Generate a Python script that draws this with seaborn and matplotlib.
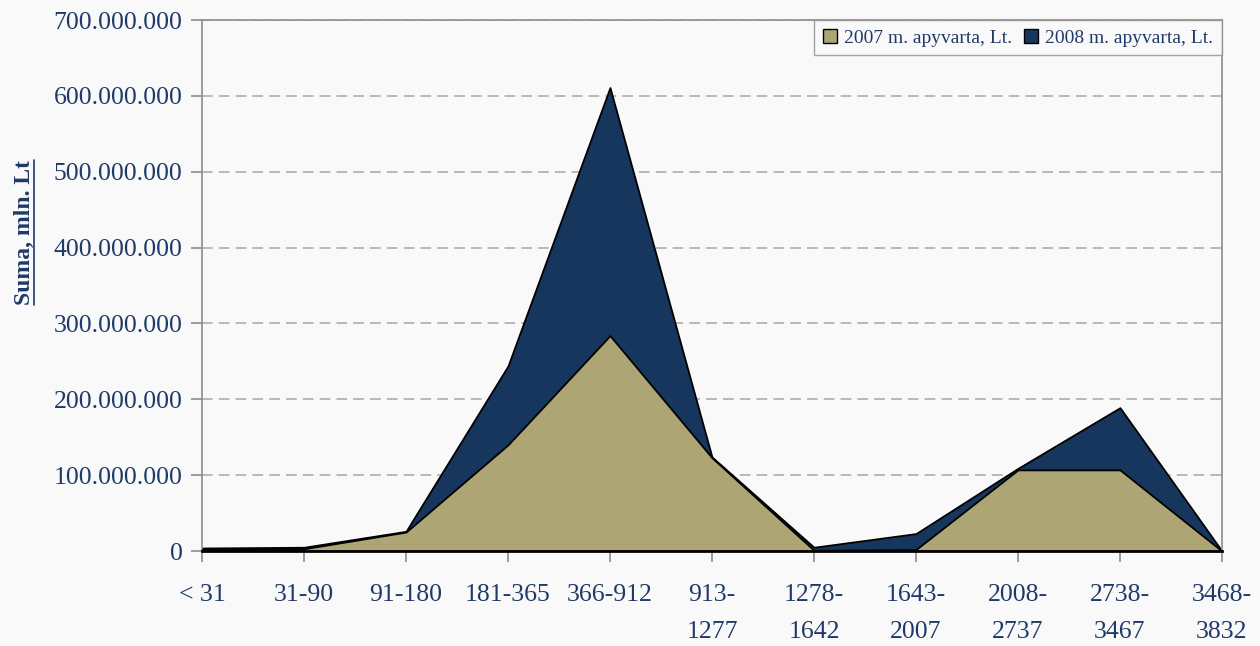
import numpy as np
import pandas as pd
import matplotlib
matplotlib.use("Agg")
import matplotlib.pyplot as plt
import seaborn as sns
from matplotlib.patches import Patch
from matplotlib.lines import Line2D
from matplotlib.ticker import FuncFormatter

# Data (in Lt)
categories = ["< 31", "31-90", "91-180", "181-365", "366-912", "913-\n1277",
              "1278-\n1642", "1643-\n2007", "2008-\n2737", "2738-\n3467", "3468-\n3832"]
turnover_2007 = [2e6, 3e6, 25e6, 140e6, 284e6, 123e6, 1e6, 2e6, 107e6, 107e6, 0]
turnover_2008 = [4e6, 5e6, 26e6, 244e6, 611e6, 124e6, 5e6, 23e6, 109e6, 189e6, 0]

df = pd.DataFrame({"cat": categories, "y2007": turnover_2007, "y2008": turnover_2008})
df["pos"] = np.arange(len(df))

sns.set_theme(style="white")
plt.rcParams["font.family"] = ["Liberation Serif", "DejaVu Serif"]

text_col = "#1F3A68"
bg = "#F9F9F9"
tan = "#ADA574"
navy = "#17365D"

fig = plt.figure(figsize=(12.6, 6.46), dpi=100, facecolor=bg)
ax = fig.add_axes([0.1603, 0.147, 0.8095, 0.822])
ax.set_facecolor(bg)

ax.fill_between(df["pos"], df["y2008"], color=navy, edgecolor="black", linewidth=1.3, zorder=2)
ax.fill_between(df["pos"], df["y2007"], color=tan, edgecolor="black", linewidth=1.3, zorder=3)

ax.set_xlim(0, len(df) - 1)
ax.set_ylim(0, 700e6)
ax.set_yticks(np.arange(0, 700e6 + 1, 100e6))
ax.yaxis.set_major_formatter(FuncFormatter(lambda v, p: f"{int(v):,}".replace(",", ".")))
ax.set_xticks(df["pos"])
ax.set_xticklabels(df["cat"], linespacing=1.85)

ax.grid(axis="y", color="#A6A6A6", linestyle=(0, (7, 4)), linewidth=1.1, zorder=1)
ax.set_axisbelow(True)

for side in ["left", "right", "top"]:
    ax.spines[side].set_color("#8C8C8C")
    ax.spines[side].set_linewidth(1.2)
ax.spines["bottom"].set_color("black")
ax.spines["bottom"].set_linewidth(2)
ax.spines["bottom"].set_zorder(5)

ax.tick_params(axis="both", direction="out", length=8, width=1.2, color="#8C8C8C",
               labelsize=18.5, labelcolor=text_col, left=True, bottom=True)
ax.tick_params(axis="x", pad=16)
ax.tick_params(axis="y", pad=6)

ax.set_ylabel("Suma, mln. Lt", fontsize=17, color=text_col, fontweight="bold")
ax.yaxis.set_label_coords(-0.164, 0.6)

handles = [Patch(facecolor=tan, edgecolor="black", label="2007 m. apyvarta, Lt."),
           Patch(facecolor=navy, edgecolor="black", label="2008 m. apyvarta, Lt.")]
leg = ax.legend(handles=handles, loc="upper right", ncol=2, fontsize=14,
                frameon=True, fancybox=False, borderaxespad=0, handlelength=0.75,
                handleheight=0.75, handletextpad=0.35, columnspacing=0.6, borderpad=0.45)
leg.get_frame().set_edgecolor("#8C8C8C")
leg.get_frame().set_facecolor(bg)
for t in leg.get_texts():
    t.set_color(text_col)

# underline for the rotated y label
fig.canvas.draw()
bb = ax.yaxis.label.get_window_extent()
W, H = fig.bbox.width, fig.bbox.height
ux = (bb.x1 - 1) / W
fig.add_artist(Line2D([ux, ux], [bb.y0 / H, bb.y1 / H], color=text_col, linewidth=1.2))

fig.savefig("out.png", dpi=100, facecolor=bg)
